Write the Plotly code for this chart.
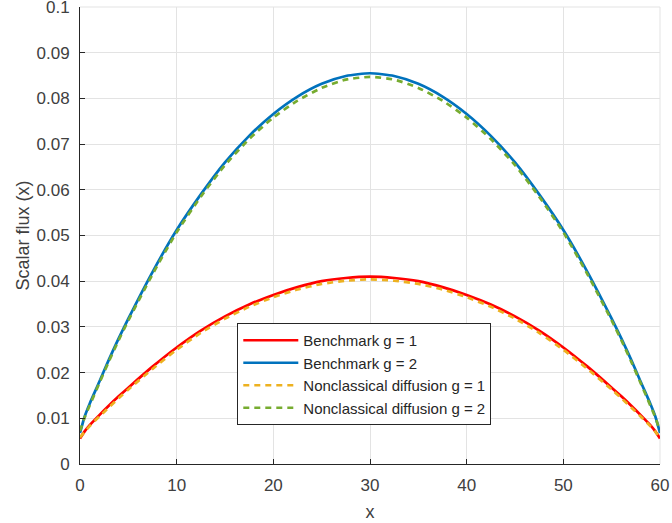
import plotly.graph_objects as go

x = [0, 0.5, 1, 2, 3, 4, 5, 7.5, 10, 12.5, 15, 17.5, 20, 22.5, 25, 27.5, 30,
     32.5, 35, 37.5, 40, 42.5, 45, 47.5, 50, 52.5, 55, 56, 57, 58, 59, 59.5, 60]

bench_g1 = [0.0056, 0.0072, 0.0085, 0.0107, 0.0128, 0.0148, 0.0167, 0.0213, 0.0255,
            0.0292, 0.0323, 0.0349, 0.0370, 0.0387, 0.0400, 0.0407, 0.0410,
            0.0407, 0.0400, 0.0387, 0.0370, 0.0349, 0.0323, 0.0292, 0.0255,
            0.0213, 0.0167, 0.0148, 0.0128, 0.0107, 0.0085, 0.0072, 0.0056]

bench_g2 = [0.0068, 0.0105, 0.0132, 0.0180, 0.0229, 0.0275, 0.0318, 0.0420, 0.0512,
            0.0590, 0.0660, 0.0718, 0.0766, 0.0804, 0.0832, 0.0849, 0.0855,
            0.0849, 0.0832, 0.0804, 0.0766, 0.0718, 0.0660, 0.0590, 0.0512,
            0.0420, 0.0318, 0.0275, 0.0229, 0.0180, 0.0132, 0.0105, 0.0068]

nonc_g1 = [0.0058, 0.0071, 0.0083, 0.0104, 0.0124, 0.0144, 0.0163, 0.0208, 0.0250,
           0.0287, 0.0318, 0.0344, 0.0365, 0.0382, 0.0394, 0.0401, 0.0404,
           0.0401, 0.0394, 0.0382, 0.0365, 0.0344, 0.0318, 0.0287, 0.0250,
           0.0208, 0.0163, 0.0144, 0.0124, 0.0104, 0.0083, 0.0071, 0.0058]

nonc_g2 = [0.0072, 0.0103, 0.0128, 0.0177, 0.0225, 0.0271, 0.0314, 0.0415, 0.0507,
           0.0585, 0.0654, 0.0711, 0.0758, 0.0795, 0.0823, 0.0841, 0.0847,
           0.0841, 0.0823, 0.0795, 0.0758, 0.0711, 0.0654, 0.0585, 0.0507,
           0.0415, 0.0314, 0.0271, 0.0225, 0.0177, 0.0128, 0.0103, 0.0072]

names = ["Benchmark g = 1", "Benchmark g = 2",
         "Nonclassical diffusion g = 1", "Nonclassical diffusion g = 2"]
colors = ["#FF0000", "#0072BD", "#EDB120", "#77AC30"]
dashes = ["solid", "solid", "6px,5px", "6px,5px"]
series = [bench_g1, bench_g2, nonc_g1, nonc_g2]

xticks = [0, 10, 20, 30, 40, 50, 60]
yticks = [0, 0.01, 0.02, 0.03, 0.04, 0.05, 0.06, 0.07, 0.08, 0.09, 0.1]
yticktext = ["0", "0.01", "0.02", "0.03", "0.04", "0.05", "0.06", "0.07", "0.08", "0.09", "0.1"]

fig = go.Figure()
for name, ys, c, d in zip(names, series, colors, dashes):
    fig.add_trace(go.Scatter(x=x, y=ys, mode="lines", name=name,
                             line=dict(color=c, width=2.7, dash=d, shape="spline", smoothing=0.6)))

font_family = "Liberation Sans, Arial, sans-serif"
grid_color = "#e3e3e3"
axis_common = dict(
    showgrid=True, gridcolor=grid_color, gridwidth=1,
    showline=True, linecolor="#262626", linewidth=1,
    ticks="inside", ticklen=5, tickcolor="#262626",
    zeroline=False, mirror=False, automargin=False,
    ticklabeloverflow="allow",
    tickfont=dict(family=font_family, size=17, color="#404040"),
)

fig.update_layout(
    width=672, height=523,
    margin=dict(l=80, r=12, t=7, b=59),
    paper_bgcolor="white", plot_bgcolor="white",
    font=dict(family=font_family, color="#404040"),
    showlegend=True,
    legend=dict(
        x=0.2712, y=0.3085, xanchor="left", yanchor="top",
        bgcolor="white", bordercolor="#262626", borderwidth=1,
        font=dict(family=font_family, size=15, color="#262626"),
        tracegroupgap=0, itemwidth=55,
    ),
    shapes=[
        dict(type="line", xref="paper", yref="paper", x0=0, x1=1, y0=1, y1=1,
             line=dict(color=grid_color, width=1), layer="below"),
        dict(type="line", xref="paper", yref="paper", x0=1, x1=1, y0=0, y1=1,
             line=dict(color=grid_color, width=1), layer="below"),
    ],
)
fig.update_xaxes(range=[0, 60], tickvals=xticks, ticklabelstandoff=6,
                 title=dict(text="x", font=dict(family=font_family, size=18, color="#404040"), standoff=10),
                 **axis_common)
fig.update_yaxes(range=[0, 0.1000001], tickvals=yticks, ticktext=yticktext, ticklabelstandoff=6,
                 title=dict(text="Scalar flux (x)", font=dict(family=font_family, size=18, color="#404040"), standoff=2),
                 **axis_common)

fig.write_html("out.html", config={"displayModeBar": False},
               post_script="document.body.style.margin='0';document.body.style.padding='0';")
